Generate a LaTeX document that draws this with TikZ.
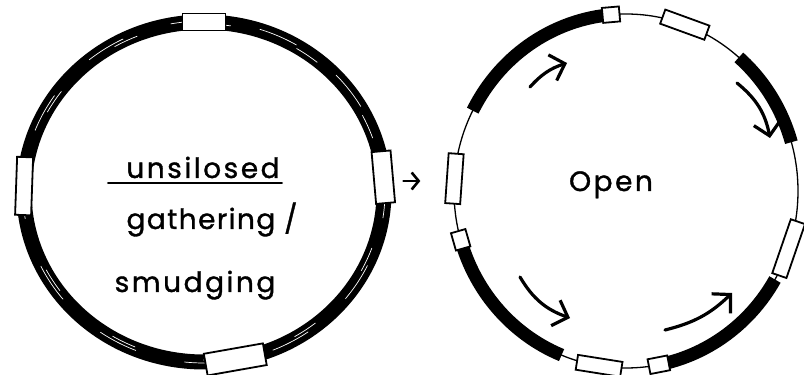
\documentclass[tikz,border=0pt]{standalone}
\usepackage{fontspec}
\setmainfont{Poppins}
\newfontfamily\handfont{Poppins}[LetterSpace=9,FakeBold=1.2]
\usetikzlibrary{arrows.meta,positioning,shapes.geometric}

\begin{document}
\begin{tikzpicture}[x=1pt,y=1pt,
  ring/.style={draw=black,ellipse,line width=15pt,inner sep=0pt},
  thinring/.style={draw=black,ellipse,line width=1.3pt,inner sep=0pt},
  band/.style={draw=black,line width=13pt},
  streak/.style={draw=white,line width=0.7pt},
  gapbox/.style={draw=black,fill=white,line width=1.8pt,inner sep=0pt,minimum height=15pt},
  flow/.style={draw=black,line width=3.2pt,line cap=round,
               -{Straight Barb[length=13pt,width=27pt,line width=3.2pt]}},
  pointer/.style={draw=black,line width=2.6pt,line cap=round,
               -{Straight Barb[length=7pt,width=17pt,line width=2.6pt]}},
  word/.style={font=\handfont\fontsize{28}{30}\selectfont,inner sep=0pt}]

  \useasboundingbox (0,0) rectangle (804,375);

  % left: the closed ring
  \node[ring,minimum width=360pt,minimum height=340pt] (closed) at (204,183) {};
  \draw[streak,dash pattern=on 40pt off 50pt] (closed.center) ellipse [x radius=181pt, y radius=171pt];
  \draw[streak,dash pattern=on 25pt off 70pt,dash phase=40pt] (closed.center) ellipse [x radius=178pt, y radius=168pt];
  \foreach \t/\l/\w [count=\i] in {90/43/17, 178/58/16, 5/52/19, 280/60/22}
    \node[gapbox,minimum width=\l,minimum height=\w,rotate=\t+90] (lgap\i)
      at ([shift={(\t:180 and 170)}]closed.center) {};

  \node[word,anchor=base] (unsilo) at (203,197) {unsilosed};
  \draw[line width=2.6pt,line cap=round] ([xshift=-18pt,yshift=-5pt]unsilo.base west) -- ([xshift=2pt,yshift=-5pt]unsilo.base east);
  \node[word,anchor=base,font=\handfont\addfontfeature{LetterSpace=5}\fontsize{28}{30}\selectfont] (gather) at (212,146) {gathering /};
  \node[word,anchor=base] (smudge) at (195,83) {smudging};

  % right: the open ring
  \node[thinring,minimum width=344pt,minimum height=354pt] (open) at (626,184) {};
  \foreach \a/\b [count=\i] in {92/153, 16/49, 194/248, 278/330}
    \draw[band] ([shift={(\a:172 and 177)}]open.center)
      arc [start angle=\a, end angle=\b, x radius=172pt, y radius=177pt];
  \foreach \t/\l [count=\i] in {70/47, 176/50, 261/45, 341/57, 95/17, 196/18, 281/20}
    \node[gapbox,minimum width=\l,rotate=\t+90] (rgap\i)
      at ([shift={(\t:172 and 177)}]open.center) {};

  \node[word,anchor=base] (opentext) at (611,184) {Open};

  % flow arrows
  \coordinate (f1s) at (530,288);
  \coordinate (f1e) at (567,312);
  \coordinate (f2s) at (737,292);
  \coordinate (f2e) at (770,237);
  \coordinate (f3s) at (520,98);
  \coordinate (f3e) at (570,57);
  \coordinate (f4s) at (665,45);
  \coordinate (f4e) at (732,82);
  \draw[flow] (f1s) to[bend left=15] (f1e);
  \draw[flow] (f2s) to[bend left=20] (f2e);
  \draw[flow] (f3s) to[bend right=20] (f3e);
  \draw[flow] (f4s) to[bend right=15] (f4e);

  \draw[pointer,shorten <=12pt,shorten >=33pt] ([yshift=11pt]closed.east) -- ([yshift=10pt]open.west);
\end{tikzpicture}
\end{document}
